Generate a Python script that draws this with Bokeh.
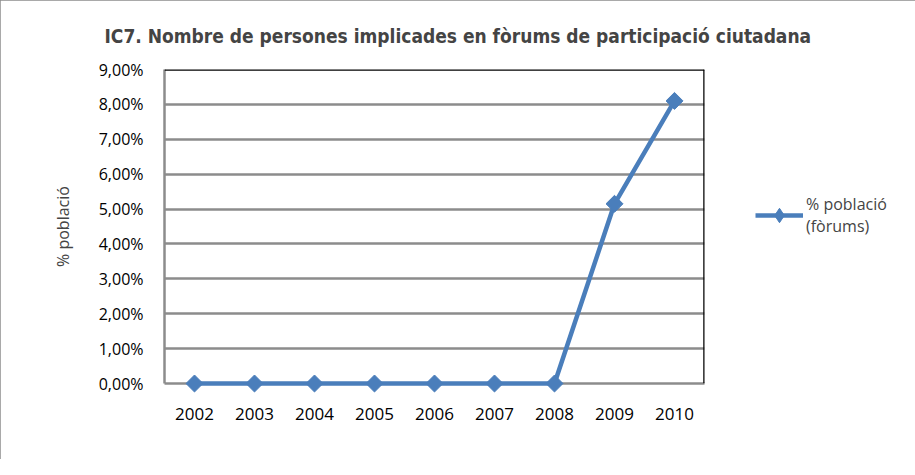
import math
from bokeh.plotting import figure
from bokeh.models import Span, Legend, LegendItem, FixedTicker, CustomJSTickFormatter, Range1d
from bokeh.embed import file_html
from bokeh.resources import INLINE

years = ["2002", "2003", "2004", "2005", "2006", "2007", "2008", "2009", "2010"]
values = [0.0, 0.0, 0.0, 0.0, 0.0, 0.0, 0.0, 5.15, 8.1]
y_ticks = [0, 1, 2, 3, 4, 5, 6, 7, 8, 9]
series_name = "% població\n(fòrums)"
title_text = "IC7. Nombre de persones implicades en fòrums de participació ciutadana"

W, H = 899, 459
p = figure(width=W, height=H, x_range=years, y_range=Range1d(0, 9),
           output_backend="svg", toolbar_location=None,
           min_border_left=164, min_border_right=195, min_border_top=69, min_border_bottom=76)
p.frame_width = 540
p.frame_height = 314

p.title.text = title_text
p.title.text_font = "DejaVu Sans Condensed"
p.title.text_font_size = "19px"
p.title.text_font_style = "bold"
p.title.align = "left"
p.title.offset = -60
p.title.standoff = 45

p.outline_line_color = None
p.background_fill_color = "white"
p.border_fill_color = "white"
p.styles = {"outline": "2px solid #8c8c8c", "outline-offset": "-2px"}

FONT = "Open Sans"
p.yaxis.ticker = FixedTicker(ticks=y_ticks)
p.yaxis.formatter = CustomJSTickFormatter(code="return tick.toFixed(2).replace('.', ',') + '%';")
for ax in (p.xaxis, p.yaxis):
    ax.axis_line_color = "#8c8c8c"
    ax.axis_line_width = 2.5
    ax.major_tick_line_color = None
    ax.minor_tick_line_color = None
    ax.major_label_text_font = FONT
    ax.major_label_text_color = "black"
p.xaxis.major_label_text_font_size = "17px"
p.yaxis.major_label_text_font_size = "16px"
p.yaxis.major_label_standoff = 15
p.xaxis.major_label_standoff = 18
p.yaxis.axis_label = "% població"
p.yaxis.axis_label_text_font = FONT
p.yaxis.axis_label_text_font_size = "16px"
p.yaxis.axis_label_text_font_style = "normal"
p.yaxis.axis_label_standoff = 22

p.xgrid.grid_line_color = None
p.ygrid.grid_line_color = "#8c8c8c"
p.ygrid.grid_line_width = 2.5

p.add_layout(Span(location=9, dimension="width", line_color="black", line_width=2.5))
p.add_layout(Span(location=len(years), dimension="height", line_color="black", line_width=2.5))

BLUE = "#4a7ebb"
ln = p.line(years, values, line_color=BLUE, line_width=4.5, level="overlay")
mk = p.scatter(years, values, marker="square", angle=math.pi / 4, size=12,
               fill_color=BLUE, line_color=BLUE, level="overlay")
# legend-only diamond glyph (placed far outside the visible range, clipped)
mk_leg = p.scatter(x=[years[0]], y=[-100], marker="diamond", size=17,
                   fill_color=BLUE, line_color=BLUE)

legend = Legend(items=[LegendItem(label=series_name, renderers=[ln, mk_leg])],
                location=(51, 146), border_line_color=None, background_fill_alpha=0,
                glyph_width=48, glyph_height=36, padding=0, margin=0, spacing=0,
                label_text_font=FONT, label_text_font_size="16px", label_standoff=3,
                label_text_line_height=1.6)
p.add_layout(legend, "right")

open("out.html", "w").write(file_html(p, INLINE))
